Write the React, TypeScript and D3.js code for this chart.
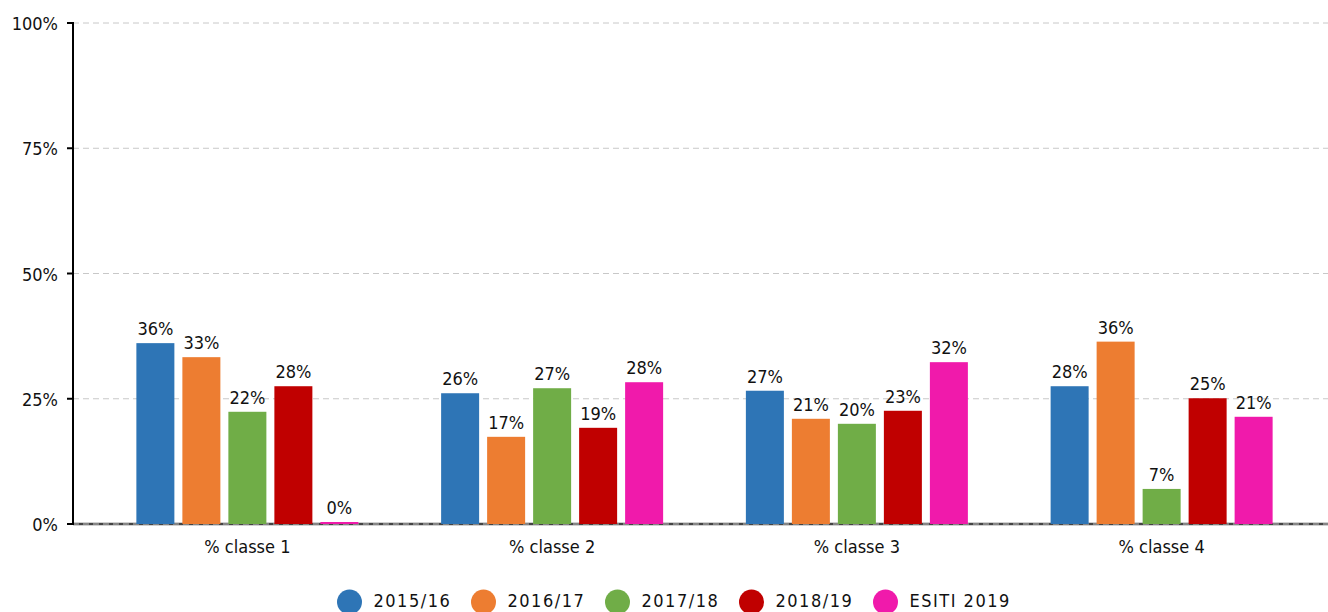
import React from "react";
import { scaleBand, scaleLinear } from "d3";

const categories = ["% classe 1", "% classe 2", "% classe 3", "% classe 4"];
const seriesNames = ["2015/16", "2016/17", "2017/18", "2018/19", "ESITI 2019"];
const seriesColors = ["#2e75b6", "#ed7d31", "#70ad47", "#c00000", "#f01aab"];
const s2015 = [36.1, 26.1, 26.6, 27.5];
const s2016 = [33.3, 17.4, 21.0, 36.4];
const s2017 = [22.4, 27.1, 20.0, 7.0];
const s2018 = [27.5, 19.2, 22.6, 25.1];
const sEsiti = [0.4, 28.3, 32.3, 21.4];
const values = [s2015, s2016, s2017, s2018, sEsiti];
const yTicks = [0, 25, 50, 75, 100];

const FONT = "'DejaVu Sans Condensed', 'DejaVu Sans', sans-serif";

export default function App() {
  const width = 1328;
  const height = 612;
  const axisX = 73;

  const y = scaleLinear().domain([0, 100]).range([524, 23]);
  const x = scaleBand().domain(categories).range([95, 1314]).padding(0);
  const inner = scaleBand()
    .domain(seriesNames)
    .range([-115, 115])
    .paddingInner(8 / 46)
    .paddingOuter(4 / 46);

  const legendX = (i: number) => 349.5 + i * 134;

  return (
    <svg
      width={width}
      height={height}
      style={{ position: "absolute", left: 0, top: 0, fontFamily: FONT }}
    >
      <rect width={width} height={height} fill="#fff" />
      {/* zero baseline */}
      <line x1={axisX} x2={width} y1={y(0)} y2={y(0)} stroke="#444" strokeWidth={2.5} />
      {/* grid */}
      {yTicks.map((t) => (
        <line
          key={t}
          x1={axisX}
          x2={width}
          y1={y(t)}
          y2={y(t)}
          stroke="#c8c8c8"
          strokeWidth={1}
          strokeDasharray="6,4"
        />
      ))}
      {/* bars */}
      {categories.map((c, ci) =>
        seriesNames.map((s, si) => {
          const v = values[si][ci];
          const bx = (x(c) as number) + x.bandwidth() / 2 + (inner(s) as number);
          return (
            <g key={c + s}>
              <rect
                x={bx}
                y={y(v)}
                width={inner.bandwidth()}
                height={y(0) - y(v)}
                fill={seriesColors[si]}
              />
              <text
                x={bx + inner.bandwidth() / 2}
                y={y(v) - 8}
                textAnchor="middle"
                fontSize={18}
                fill="#111"
              >
                {Math.round(v)}%
              </text>
            </g>
          );
        })
      )}
      {/* y axis */}
      <line x1={axisX} x2={axisX} y1={y(100) - 1} y2={y(0) + 1} stroke="#000" strokeWidth={2} />
      {yTicks.map((t) => (
        <g key={"t" + t}>
          <line x1={axisX - 6} x2={axisX} y1={y(t)} y2={y(t)} stroke="#000" strokeWidth={2} />
          <text x={58} y={y(t) + 7} textAnchor="end" fontSize={18} fill="#111">
            {t}%
          </text>
        </g>
      ))}
      {/* x labels */}
      {categories.map((c) => (
        <text
          key={c}
          x={(x(c) as number) + x.bandwidth() / 2}
          y={553}
          textAnchor="middle"
          fontSize={18}
          fill="#111"
        >
          {c}
        </text>
      ))}
      {/* legend */}
      {seriesNames.map((s, i) => (
        <g key={"l" + s}>
          <circle cx={legendX(i)} cy={602} r={12.5} fill={seriesColors[i]} />
          <text x={legendX(i) + 24} y={607} fontSize={18} fill="#111" letterSpacing={1.5}>
            {s}
          </text>
        </g>
      ))}
    </svg>
  );
}
